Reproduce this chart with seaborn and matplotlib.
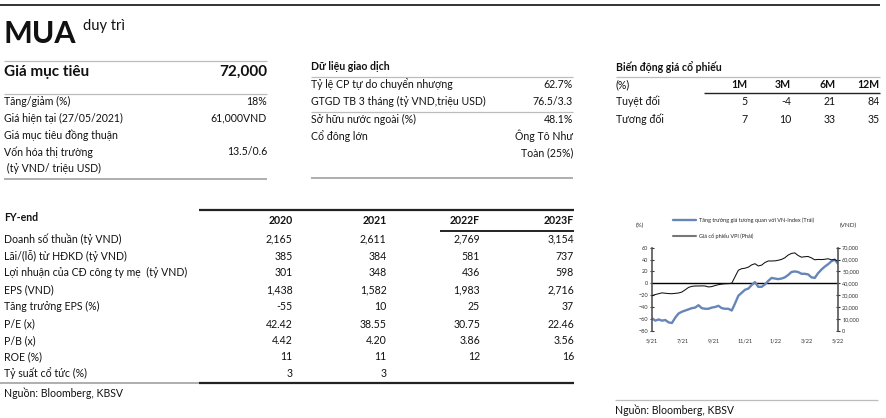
import numpy as np
import pandas as pd
import matplotlib.pyplot as plt
import seaborn as sns

sns.set_style("white")
plt.rcParams['font.family'] = ['Lato', 'Open Sans', 'DejaVu Sans']

## Data
rating = "MUA"
rating_note = "duy trì"
target_label = "Giá mục tiêu"
target_price = "72,000"

summary_labels = ["Tăng/giảm (%)", "Giá hiện tại (27/05/2021)", "Giá mục tiêu đồng thuận",
                  "Vốn hóa thị trường", " (tỷ VND/ triệu USD)"]
summary_values = ["18%", "61,000VND", "", "13.5/0.6", ""]

trading_title = "Dữ liệu giao dịch"
trading_labels = ["Tỷ lệ CP tự do chuyển nhượng", "GTGD TB 3 tháng (tỷ VND,triệu USD)",
                  "Sở hữu nước ngoài (%)", "Cổ đông lớn", ""]
trading_values = ["62.7%", "76.5/3.3", "48.1%", "Ông Tô Như", "Toàn (25%)"]

perf_title = "Biến động giá cổ phiếu"
perf_periods = ["1M", "3M", "6M", "12M"]
perf_rows = ["Tuyệt đối", "Tương đối"]
perf_absolute = [5, -4, 21, 84]
perf_relative = [7, 10, 33, 35]

fy_years = ["2020", "2021", "2022F", "2023F"]
fy_rows = ["Doanh số thuần (tỷ VND)", "Lãi/(lỗ) từ HĐKD (tỷ VND)", "Lợi nhuận của CĐ công ty mẹ  (tỷ VND)",
           "EPS (VND)", "Tăng trưởng EPS (%)", "P/E (x)", "P/B (x)", "ROE (%)", "Tỷ suất cổ tức (%)"]
net_sales = [2165, 2611, 2769, 3154]
operating_profit = [385, 384, 581, 737]
parent_profit = [301, 348, 436, 598]
eps = [1438, 1582, 1983, 2716]
eps_growth = [-55, 10, 25, 37]
pe = [42.42, 38.55, 30.75, 22.46]
pb = [4.42, 4.20, 3.86, 3.56]
roe = [11, 11, 12, 16]
div_yield = [3, 3, None, None]
source = "Nguồn: Bloomberg, KBSV"

# chart: 5/21 -> 5/22
month_labels = ["5/21", "7/21", "9/21", "11/21", "1/22", "3/22", "5/22"]
rel_growth = [-59, -63, -61, -63, -62, -66, -67, -58, -51, -48, -46, -44, -42, -41, -37,
              -42, -43, -43, -41, -40, -38, -42, -43, -43, -46, -34, -21, -16, -11, -9,
              -3, 2, -6, -6, -2, 4, 9, 8, 7, 8, 10, 14, 19, 20, 19, 16, 16, 15, 10, 9,
              17, 23, 28, 32, 37, 40, 33]
vpi_price = [29500, 30500, 31200, 31900, 31600, 31300, 31200, 31500, 31800, 32600, 34500,
             36500, 37400, 37700, 37700, 37800, 37700, 36900, 37200, 38100, 38800, 39300,
             39600, 39700, 40000, 45500, 51000, 52300, 52700, 53600, 55500, 56500, 54600,
             55300, 57500, 58800, 58800, 58900, 59400, 60100, 61500, 63800, 65200, 65600,
             63400, 62000, 62400, 62600, 61400, 59800, 60100, 60000, 60200, 60700, 59800,
             60000, 58500]
rel_label = "Tăng trưởng giá tương quan với VN-Index (Trái)"
vpi_label = "Giá cổ phiếu VPI (Phải)"

fy_table = [net_sales, operating_profit, parent_profit, eps, eps_growth, pe, pb, roe, div_yield]
fy_fmt = ["{:,.0f}", "{:,.0f}", "{:,.0f}", "{:,.0f}", "{:.0f}", "{:.2f}", "{:.2f}", "{:.0f}", "{:.0f}"]

## Figure
fig = plt.figure(figsize=(8.86, 4.18), dpi=100)
page = fig.add_axes([0, 0, 1, 1])
page.set_xlim(0, 886)
page.set_ylim(418, 0)
page.axis("off")

GRAY = "#bdbdbd"
DARK = "#222222"
FS = 7.6

def rule(x0, x1, y, color=GRAY, lw=0.9):
    page.plot([x0, x1], [y, y], color=color, lw=lw, solid_capstyle="butt")

def txt(x, y, s, ha="left", size=FS, weight="normal", color="#111111"):
    page.text(x, y, s, ha=ha, va="center", fontsize=size, fontweight=weight, color=color)

rule(0, 880, 5, color=DARK, lw=1.3)

## Left header block
page.text(4, 43, rating, ha="left", va="baseline", fontsize=22, fontweight="bold", color="#111111")
txt(83, 26, rating_note, size=10.5)
rule(4, 267, 60.7)
txt(4, 72, target_label, size=11, weight="bold")
txt(267, 72, target_price, ha="right", size=11, weight="bold")
rule(4, 267, 94.3)
for i, (lab, val) in enumerate(zip(summary_labels, summary_values)):
    y = 101.7 + i * 16.7
    txt(4, y, lab)
    txt(267, y, val, ha="right")
rule(4, 267, 179, color="#999999", lw=1.1)

## Trading data block
txt(311, 66.7, trading_title, weight="bold")
rule(311, 573, 76.7)
trading_y = [84.3, 101.7, 119.3, 136, 152.7]
for lab, val, y in zip(trading_labels, trading_values, trading_y):
    txt(311, y, lab)
    txt(573, y, val, ha="right")
rule(311, 573, 111.7)
rule(311, 573, 178.3, color="#999999", lw=1.1)

## Price performance block
txt(616, 66.7, perf_title, weight="bold")
rule(616, 880, 76.7)
perf_x = [747.7, 791, 836, 879.5]
txt(616, 85, "(%)")
for px, p in zip(perf_x, perf_periods):
    txt(px, 85, p, ha="right", weight="bold")
rule(704, 880, 93.3, color=DARK, lw=1.0)
for name, vals, y in zip(perf_rows, [perf_absolute, perf_relative], [101.7, 119.3]):
    txt(616, y, name)
    for px, v in zip(perf_x, vals):
        txt(px, y, str(v), ha="right")

## Financial table
rule(199, 574, 210, color=DARK, lw=1.6)
txt(4, 217.3, "FY-end", weight="bold")
col_x = [292.7, 386.7, 480, 574]
for cx, yr in zip(col_x, fy_years):
    txt(cx, 220, yr, ha="right", weight="bold")
rule(440, 574, 230.7, color=DARK, lw=1.4)
row_y = [239, 256, 272.7, 290, 306.7, 324, 340.7, 356.7, 373.3]
for lab, vals, fmt, y in zip(fy_rows, fy_table, fy_fmt, row_y):
    txt(4, y, lab)
    for cx, v in zip(col_x, vals):
        if v is not None:
            txt(cx, y, fmt.format(v), ha="right")
rule(0, 199, 383.3, color="#999999", lw=1.1)
rule(199, 574, 383.3, color=DARK, lw=1.6)
txt(4, 393.3, source)

## Right footer
rule(615, 878, 400)
txt(615, 410, source)

## Chart
months = np.linspace(0, 12, len(rel_growth))
chart_df = pd.DataFrame({"month": months, "rel": rel_growth, "vpi": vpi_price})

ax = fig.add_axes([652 / 886, 1 - 330.7 / 418, 186 / 886, 83 / 418])
ax.patch.set_alpha(0)
sns.lineplot(data=chart_df, x="month", y="rel", ax=ax, color="#6686ba", lw=1.7, label=rel_label)
ax2 = ax.twinx()
sns.lineplot(data=chart_df, x="month", y="vpi", ax=ax2, color="#111111", lw=0.75, label=vpi_label)
ax.axhline(0, color="black", lw=1.0, zorder=1)

ax.set_xlim(0, 12)
ax.set_ylim(-80, 60)
ax2.set_ylim(0, 70000)
ax.set_xticks(np.arange(0, 13, 2))
ax.set_xticklabels(month_labels)
ax.set_yticks(np.arange(-80, 61, 20))
ax2.set_yticks(np.arange(0, 70001, 10000))
ax2.set_yticklabels([f"{v:,}" for v in np.arange(0, 70001, 10000)])
ax.set_xlabel("")
ax.set_ylabel("")
ax2.set_ylabel("")

for a in (ax, ax2):
    for s in a.spines.values():
        s.set_visible(False)
ax.spines["left"].set_visible(True)
ax.spines["left"].set_color("#555555")
ax.spines["left"].set_linewidth(1.2)
ax2.spines["right"].set_visible(True)
ax2.spines["right"].set_color("#555555")
ax2.spines["right"].set_linewidth(1.2)

ax.tick_params(axis="y", direction="inout", length=3, width=0.8, labelsize=4, pad=1.5,
               colors="#333333", left=True)
ax2.tick_params(axis="y", direction="inout", length=3, width=0.8, labelsize=4, pad=1.5,
                colors="#333333", right=True)
ax.tick_params(axis="x", length=0, labelsize=4, pad=5.5, colors="#333333")

ax.get_legend().remove()
ax2.get_legend().remove()
h1 = ax.get_lines()[0]
h2 = ax2.get_lines()[0]
leg = ax.legend([h1, h2], [rel_label, vpi_label], loc="upper left",
                bbox_to_anchor=(673 / 886, 1 - 217 / 418), bbox_transform=fig.transFigure,
                frameon=False, fontsize=4, handlelength=4.2, handletextpad=0.4,
                labelspacing=1.9, borderpad=0, borderaxespad=0)
leg.legend_handles[1].set_color("#777777")
leg.legend_handles[1].set_linewidth(1.5)

txt(636, 225, "(%)", size=4.5, color="#333333")
txt(840, 225, "(VND)", size=4.5, color="#333333")

fig.savefig("out.png", dpi=100)
